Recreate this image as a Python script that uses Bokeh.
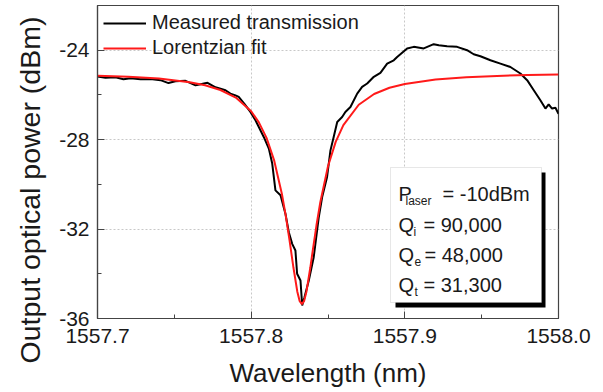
from bokeh.plotting import figure
from bokeh.models import (FixedTicker, NumeralTickFormatter, BoxAnnotation, Label,
                          Legend, LegendItem, Range1d, Title)
from bokeh.embed import file_html
from bokeh.resources import INLINE

# ---------------- data ----------------
meas_wl = [1557.7000, 1557.7052, 1557.7117, 1557.7169, 1557.7215, 1557.7280, 1557.7345,
           1557.7410, 1557.7462, 1557.7507, 1557.7573, 1557.7638, 1557.7670, 1557.7716,
           1557.7768, 1557.7833, 1557.7865, 1557.7898, 1557.7919, 1557.7956, 1557.7995,
           1557.8028, 1557.8082, 1557.8115, 1557.8137, 1557.8158, 1557.8191, 1557.8223,
           1557.8245, 1557.8267, 1557.8288, 1557.8299, 1557.8321, 1557.8332, 1557.8347,
           1557.8375, 1557.8407, 1557.8440, 1557.8462, 1557.8494, 1557.8516, 1557.8537,
           1557.8560, 1557.8592, 1557.8613, 1557.8646, 1557.8690, 1557.8722, 1557.8755,
           1557.8798, 1557.8841, 1557.8885, 1557.8928, 1557.8950, 1557.9015, 1557.9058,
           1557.9123, 1557.9188, 1557.9221, 1557.9275, 1557.9340, 1557.9405, 1557.9448,
           1557.9492, 1557.9557, 1557.9622, 1557.9687, 1557.9752, 1557.9796, 1557.9839,
           1557.9882, 1557.9915, 1557.9936, 1557.9958, 1557.9980, 1558.0000]
meas_dbm = [-25.18, -25.23, -25.21, -25.30, -25.25, -25.30, -25.29,
            -25.34, -25.47, -25.39, -25.37, -25.57, -25.52, -25.46,
            -25.66, -25.79, -25.94, -26.02, -26.09, -26.40, -26.76,
            -27.13, -27.88, -28.40, -29.07, -30.27, -30.49, -31.31,
            -32.14, -32.66, -32.96, -34.00, -34.30, -35.42, -35.05,
            -34.30, -33.26, -31.47, -30.57, -29.67, -28.48, -27.88,
            -27.21, -26.99, -26.76, -26.54, -25.94, -25.64, -25.49,
            -25.19, -25.01, -24.60, -24.45, -24.30, -23.92, -23.85,
            -23.92, -23.73, -23.78, -23.82, -23.85, -24.00, -24.18,
            -24.27, -24.45, -24.60, -24.75, -25.04, -25.34, -25.79,
            -26.24, -26.61, -26.42, -26.61, -26.57, -26.84]

fit_wl = [1557.700, 1557.720, 1557.740, 1557.760, 1557.770, 1557.780, 1557.790,
          1557.800, 1557.805, 1557.810, 1557.815, 1557.820, 1557.8225, 1557.825,
          1557.8275, 1557.830, 1557.8315, 1557.833, 1557.8345, 1557.836, 1557.8385,
          1557.840, 1557.8425, 1557.845, 1557.850, 1557.855, 1557.860, 1557.870,
          1557.880, 1557.890, 1557.900, 1557.920, 1557.940, 1557.960, 1557.980, 1558.000]
fit_dbm = [-25.14, -25.19, -25.27, -25.43, -25.57, -25.78, -26.12,
           -26.73, -27.23, -27.92, -28.94, -30.43, -31.40, -32.52,
           -33.72, -34.79, -35.21, -35.36, -35.21, -34.79, -33.72,
           -33.00, -31.83, -30.80, -29.19, -28.10, -27.35, -26.44,
           -25.96, -25.68, -25.51, -25.31, -25.21, -25.15, -25.11, -25.09]

x_ticks = [1557.7, 1557.8, 1557.9, 1558.0]
x_minor = [1557.75, 1557.85, 1557.95]
y_ticks = [-36, -32, -28, -24]
y_minor = [-34, -30, -26, -22]

series_names = ["Measured transmission", "Lorentzian fit"]
box_lines = [("P", "laser", " = -10dBm"), ("Q", "i", " = 90,000"),
             ("Q", "e", " = 48,000"), ("Q", "t", " = 31,300")]

FONT = "Liberation Sans"

# ---------------- figure ----------------
p = figure(width=600, height=390, output_backend="svg", toolbar_location=None,
           x_range=Range1d(1557.7, 1558.0), y_range=Range1d(-36, -22),
           min_border_left=97, min_border_right=42, min_border_top=5, min_border_bottom=72)
p.frame_width = 461
p.frame_height = 313
p.background_fill_color = "white"
p.border_fill_color = "white"
p.outline_line_color = "#444444"
p.outline_line_width = 1.2

r_meas = p.line(meas_wl, meas_dbm, line_color="black", line_width=2)
r_fit = p.line(fit_wl, fit_dbm, line_color="#ff1a1a", line_width=2)

for ax in (p.xaxis[0], p.yaxis[0]):
    ax.axis_line_color = "#444444"
    ax.axis_line_width = 1.2
    ax.major_tick_in = 7
    ax.major_tick_out = 0
    ax.minor_tick_in = 4
    ax.minor_tick_out = 0
    ax.major_tick_line_color = "#444444"
    ax.minor_tick_line_color = "#444444"
    ax.major_label_text_font = FONT
    ax.major_label_text_font_size = "21px"
    ax.major_label_text_color = "#1a1a1a"
    ax.axis_label_text_font = FONT
    ax.axis_label_text_font_style = "normal"
    ax.axis_label_text_color = "#1a1a1a"

p.xaxis.ticker = FixedTicker(ticks=x_ticks, minor_ticks=x_minor)
p.yaxis.ticker = FixedTicker(ticks=y_ticks, minor_ticks=y_minor)
p.xaxis.formatter = NumeralTickFormatter(format="0.0")
p.yaxis.formatter = NumeralTickFormatter(format="0")
p.xaxis.major_label_standoff = 10
p.yaxis.major_label_standoff = 8
p.xaxis.axis_label = "Wavelength (nm)"
p.xaxis.axis_label_text_font_size = "26px"
p.xaxis.axis_label_standoff = 12

# y-axis label as a left title, starting below the frame bottom like the reference
p.add_layout(Title(text="Output optical power (dBm)", align="left", offset=-45,
                   text_font=FONT, text_font_size="28.5px", text_font_style="normal",
                   text_color="#1a1a1a", standoff=22), "left")

p.xgrid.ticker = FixedTicker(ticks=x_ticks[1:-1])
p.ygrid.ticker = FixedTicker(ticks=y_ticks[1:])
for g in (p.xgrid[0], p.ygrid[0]):
    g.grid_line_color = "#c8c8c8"
    g.grid_line_dash = "2 2"
    g.grid_line_width = 1

legend = Legend(items=[LegendItem(label=series_names[0], renderers=[r_meas]),
                       LegendItem(label=series_names[1], renderers=[r_fit])],
                location="top_left", margin=0, padding=6, spacing=2,
                glyph_width=43, glyph_height=20, label_height=20, label_standoff=6,
                label_text_font=FONT, label_text_font_size="20px", label_text_color="#1a1a1a",
                background_fill_alpha=0, border_line_alpha=0)
p.add_layout(legend)

# ---------------- parameter box ----------------
def xd(px):  # page pixel -> wavelength
    return 1557.7 + (px - 97) * 0.3 / 461

def yd(py):  # page pixel -> dBm
    return -22 - (py - 5) * 14 / 313

p.add_layout(BoxAnnotation(left=xd(395), right=xd(545), top=yd(172), bottom=yd(307),
                           fill_color="black", fill_alpha=1, line_alpha=0, level="overlay"))
p.add_layout(BoxAnnotation(left=xd(390), right=xd(541), top=yd(167), bottom=yd(302),
                           fill_color="white", fill_alpha=1, line_color="#b0b0b0",
                           line_width=1, level="overlay"))

baselines = [193, 224, 254, 284]
sub_x = [405, 413, 414, 414]
rest_x = [442, 423, 424, 423]
for (main, sub, rest), by, sx, rx in zip(box_lines, baselines, sub_x, rest_x):
    p.add_layout(Label(x=xd(398), y=yd(by), text=main, text_font=FONT,
                       text_font_size="20px", text_color="#1a1a1a",
                       text_baseline="alphabetic", level="overlay"))
    p.add_layout(Label(x=xd(sx), y=yd(by + 7), text=sub, text_font=FONT,
                       text_font_size="12px", text_color="#1a1a1a",
                       text_baseline="alphabetic", level="overlay"))
    p.add_layout(Label(x=xd(rx), y=yd(by), text=rest, text_font=FONT,
                       text_font_size="20px", text_color="#1a1a1a",
                       text_baseline="alphabetic", level="overlay"))

open("out.html", "w").write(file_html(p, INLINE))
